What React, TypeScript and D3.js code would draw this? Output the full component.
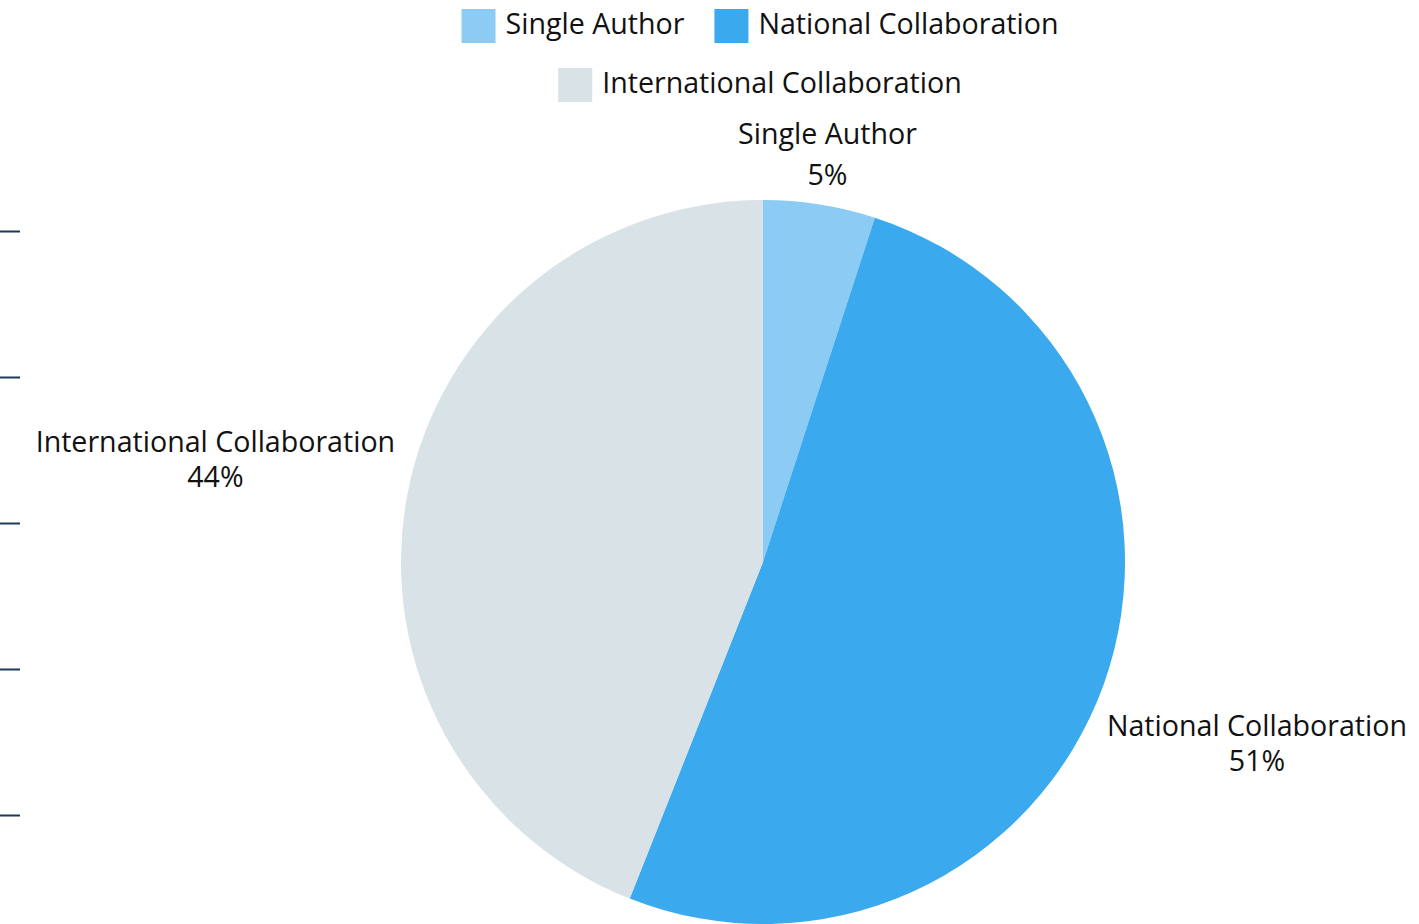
import React, { useEffect, useRef } from "react";
import * as d3 from "d3";

const categories = ["Single Author", "National Collaboration", "International Collaboration"];
const shares = [5, 51, 44];
const colors = ["#8bcbf4", "#3aa9ee", "#d9e2e7"];
const tickValues = [0, 1, 2, 3, 4];
const legendRows = [[0, 1], [2]];

const W = 1419;
const H = 924;

export default function App() {
  const ref = useRef<SVGSVGElement | null>(null);
  useEffect(() => {
    const svg = d3.select(ref.current);
    svg.selectAll("*").remove();
    const font = "'Open Sans', sans-serif";
    const fs = 28.6;
    const cx = 763, cy = 562, R = 362;

    // hidden axis ticks
    const y = d3.scaleLinear().domain([0, 4]).range([815, 231]);
    svg.append("g").selectAll("line").data(tickValues).join("line")
      .attr("x1", 0).attr("x2", 20)
      .attr("y1", (d) => Math.round(y(d)) + 0.5).attr("y2", (d) => Math.round(y(d)) + 0.5)
      .attr("stroke", "#1d3a5c").attr("stroke-width", 2);

    const data = categories.map((c, i) => ({ name: c, value: shares[i], color: colors[i] }));
    const pie = d3.pie<any>().value((d) => d.value).sort(null);
    const arcs = pie(data);
    const arc = d3.arc<any>().innerRadius(0).outerRadius(R);
    const g = svg.append("g").attr("transform", `translate(${cx},${cy})`);
    g.selectAll("path").data(arcs).join("path")
      .attr("d", arc as any).attr("fill", (d: any) => d.data.color);

    // labels
    const total = d3.sum(shares);
    arcs.forEach((a: any) => {
      const mid = (a.startAngle + a.endAngle) / 2;
      let lx = Math.sin(mid) * R * 1.54;
      let ly = -Math.cos(mid) * R * 1.49;
      let lines: [number, number];
      const pct = Math.round((a.data.value / total) * 100) + "%";
      const t = g.append("text").attr("font-family", font).attr("font-size", fs)
        .attr("fill", "#111").attr("text-anchor", "middle");
      const t1 = t.append("tspan").text(a.data.name);
      const t2 = t.append("tspan").text(pct);
      const w = (t1.node() as SVGTextElement).getComputedTextLength();
      if (ly < -R) {
        lx = Math.sin(mid) * (R + 12) + 6;
        ly = -Math.cos(mid) * (R + 12);
        lines = [ly - 49, ly - 8];
      } else {
        lines = [ly - 9, ly + 26];
      }
      // keep inside the canvas
      const maxX = W - 12 - cx - w / 2;
      const minX = 14 - cx + w / 2;
      lx = Math.max(minX, Math.min(maxX, lx));
      t1.attr("x", lx).attr("y", lines[0]);
      t2.attr("x", lx).attr("y", lines[1]);
    });

    // legend
    const sw = 34, gapText = 10, gapItem = 30;
    const rowY = [26, 85];
    const legendCx = 760;
    legendRows.forEach((row, ri) => {
      const lg = svg.append("g");
      let x = 0;
      row.forEach((idx) => {
        const item = lg.append("g").attr("transform", `translate(${x},0)`);
        item.append("rect").attr("x", 0).attr("y", rowY[ri] - sw / 2)
          .attr("width", sw).attr("height", sw).attr("fill", colors[idx]);
        const tx = item.append("text").attr("x", sw + gapText).attr("y", rowY[ri] + 8)
          .attr("font-family", font).attr("font-size", fs)
          .attr("fill", "#111").text(categories[idx]);
        const w = (tx.node() as SVGTextElement).getComputedTextLength();
        x += sw + gapText + w + gapItem;
      });
      const totalW = x - gapItem;
      lg.attr("transform", `translate(${legendCx - totalW / 2},0)`);
    });
  }, []);
  return (
    <svg ref={ref} width={W} height={H}
      style={{ position: "absolute", left: 0, top: 0, background: "#fff" }} />
  );
}
